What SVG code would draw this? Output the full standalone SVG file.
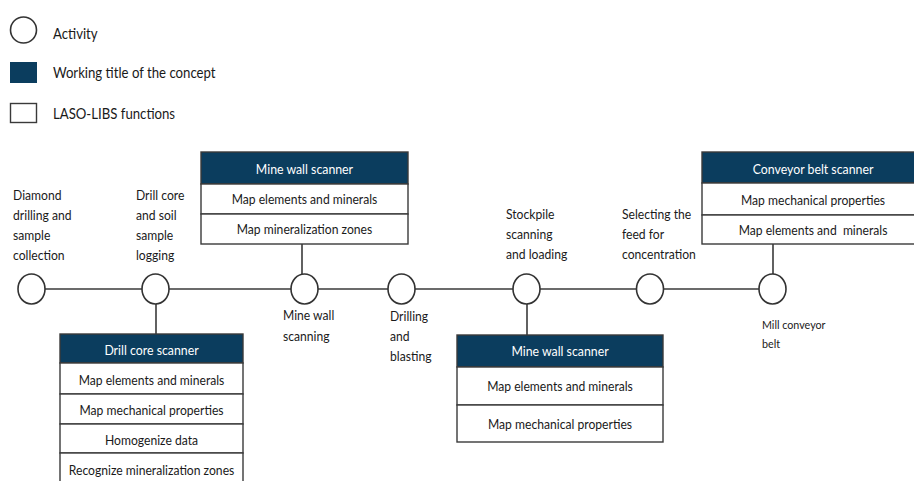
<svg xmlns="http://www.w3.org/2000/svg" width="914" height="481" viewBox="0 0 914 481">
  <style>
    text { font-family: Lato, "Open Sans", "Liberation Sans", sans-serif; fill: #1a1a1a; }
    .lbl { font-size: 13.8px; }
    .leg { font-size: 15px; }
    .small { font-size: 12.2px; }
    .box { font-size: 13.8px; text-anchor: middle; }
    .hd { font-size: 14px; text-anchor: middle; fill: #ffffff; }
    .pre { white-space: pre; }
    .act { fill: #ffffff; stroke: #333333; stroke-width: 1.6; }
    .cell { fill: #ffffff; stroke: #3a3a3a; stroke-width: 1.4; }
    .head { fill: #0b3d5e; stroke: #3a3a3a; stroke-width: 1.4; }
    .wire { stroke: #3a3a3a; stroke-width: 1.6; fill: none; }
  </style>

  <!-- all text is set slightly narrow: scale(0.88,1), so x values are divided by 0.88 -->

  <!-- legend -->
  <g id="legend">
    <ellipse class="act" cx="23.5" cy="30" rx="13" ry="13"/>
    <text class="leg" transform="scale(0.88,1)" x="60.2" y="39">Activity</text>
    <rect x="10" y="62" width="27" height="21" fill="#0b3d5e"/>
    <text class="leg" transform="scale(0.88,1)" x="60.2" y="78.5">Working title of the concept</text>
    <rect class="cell" x="10.5" y="103.5" width="26" height="19"/>
    <text class="leg" transform="scale(0.88,1)" x="60.2" y="119">LASO-LIBS functions</text>
  </g>

  <!-- connectors -->
  <g id="connectors">
    <line class="wire" x1="45" y1="289" x2="142" y2="289"/>
    <line class="wire" x1="169" y1="289" x2="291" y2="289"/>
    <line class="wire" x1="318" y1="289" x2="388" y2="289"/>
    <line class="wire" x1="415" y1="289" x2="513" y2="289"/>
    <line class="wire" x1="540" y1="289" x2="637" y2="289"/>
    <line class="wire" x1="663" y1="289" x2="760" y2="289"/>
    <line class="wire" x1="302" y1="244" x2="302" y2="274"/>
    <line class="wire" x1="773" y1="244" x2="773" y2="274"/>
    <line class="wire" x1="156" y1="304" x2="156" y2="334"/>
    <line class="wire" x1="527" y1="304" x2="527" y2="335"/>
  </g>

  <!-- activities -->
  <g id="act-diamond">
    <ellipse class="act" cx="31.5" cy="289" rx="13.5" ry="15"/>
    <text class="lbl" transform="scale(0.88,1)" x="14.8" y="200">Diamond</text>
    <text class="lbl" transform="scale(0.88,1)" x="14.8" y="220">drilling and</text>
    <text class="lbl" transform="scale(0.88,1)" x="14.8" y="240">sample</text>
    <text class="lbl" transform="scale(0.88,1)" x="14.8" y="260">collection</text>
  </g>
  <g id="act-drillcore">
    <ellipse class="act" cx="155.5" cy="289" rx="13.5" ry="15"/>
    <text class="lbl" transform="scale(0.88,1)" x="154.5" y="200">Drill core</text>
    <text class="lbl" transform="scale(0.88,1)" x="154.5" y="220">and soil</text>
    <text class="lbl" transform="scale(0.88,1)" x="154.5" y="240">sample</text>
    <text class="lbl" transform="scale(0.88,1)" x="154.5" y="260">logging</text>
  </g>
  <g id="act-minewall">
    <ellipse class="act" cx="304.5" cy="289" rx="13.5" ry="15"/>
    <text class="lbl" transform="scale(0.88,1)" x="321.6" y="320">Mine wall</text>
    <text class="lbl" transform="scale(0.88,1)" x="321.6" y="341">scanning</text>
  </g>
  <g id="act-drilling">
    <ellipse class="act" cx="401.5" cy="289" rx="13.5" ry="15"/>
    <text class="lbl" transform="scale(0.88,1)" x="443.2" y="321">Drilling</text>
    <text class="lbl" transform="scale(0.88,1)" x="443.2" y="341">and</text>
    <text class="lbl" transform="scale(0.88,1)" x="443.2" y="361">blasting</text>
  </g>
  <g id="act-stockpile">
    <ellipse class="act" cx="526.5" cy="289" rx="13.5" ry="15"/>
    <text class="lbl" transform="scale(0.88,1)" x="575" y="219">Stockpile</text>
    <text class="lbl" transform="scale(0.88,1)" x="575" y="239">scanning</text>
    <text class="lbl" transform="scale(0.88,1)" x="575" y="259">and loading</text>
  </g>
  <g id="act-feed">
    <ellipse class="act" cx="650" cy="289" rx="13.5" ry="15"/>
    <text class="lbl" transform="scale(0.88,1)" x="706.8" y="219">Selecting the</text>
    <text class="lbl" transform="scale(0.88,1)" x="706.8" y="239">feed for</text>
    <text class="lbl" transform="scale(0.88,1)" x="706.8" y="259">concentration</text>
  </g>
  <g id="act-mill">
    <ellipse class="act" cx="772.5" cy="289" rx="13.5" ry="15"/>
    <text class="small" transform="scale(0.88,1)" x="865.9" y="329">Mill conveyor</text>
    <text class="small" transform="scale(0.88,1)" x="865.9" y="348">belt</text>
  </g>

  <!-- concepts -->
  <g id="concept-minewall-top">
    <rect class="head" x="201" y="152" width="207" height="32"/>
    <rect class="cell" x="201" y="184" width="207" height="30"/>
    <rect class="cell" x="201" y="214" width="207" height="30"/>
    <text class="hd" transform="scale(0.88,1)" x="346" y="174">Mine wall scanner</text>
    <text class="box" transform="scale(0.88,1)" x="346" y="204.5">Map elements and minerals</text>
    <text class="box" transform="scale(0.88,1)" x="346" y="234.5">Map mineralization zones</text>
  </g>
  <g id="concept-conveyor">
    <rect class="head" x="702" y="152" width="220" height="31"/>
    <rect class="cell" x="702" y="183" width="220" height="32"/>
    <rect class="cell" x="702" y="215" width="220" height="29"/>
    <text class="hd" transform="scale(0.88,1)" x="923.9" y="174.5">Conveyor belt scanner</text>
    <text class="box" transform="scale(0.88,1)" x="923.9" y="205">Map mechanical properties</text>
    <text class="box pre" transform="scale(0.88,1)" x="923.9" y="235">Map elements and  minerals</text>
  </g>
  <g id="concept-drillcore">
    <rect class="head" x="60" y="334" width="183" height="29"/>
    <rect class="cell" x="60" y="363" width="183" height="31"/>
    <rect class="cell" x="60" y="394" width="183" height="30"/>
    <rect class="cell" x="60" y="424" width="183" height="29"/>
    <rect class="cell" x="60" y="453" width="183" height="32"/>
    <text class="hd" transform="scale(0.88,1)" x="172.2" y="355.5">Drill core scanner</text>
    <text class="box" transform="scale(0.88,1)" x="172.2" y="385">Map elements and minerals</text>
    <text class="box" transform="scale(0.88,1)" x="172.2" y="415">Map mechanical properties</text>
    <text class="box" transform="scale(0.88,1)" x="172.2" y="445">Homogenize data</text>
    <text class="box" transform="scale(0.88,1)" x="172.2" y="475">Recognize mineralization zones</text>
  </g>
  <g id="concept-minewall-bottom">
    <rect class="head" x="457" y="335" width="206" height="32"/>
    <rect class="cell" x="457" y="367" width="206" height="38"/>
    <rect class="cell" x="457" y="405" width="206" height="37"/>
    <text class="hd" transform="scale(0.88,1)" x="636.4" y="356">Mine wall scanner</text>
    <text class="box" transform="scale(0.88,1)" x="636.4" y="391">Map elements and minerals</text>
    <text class="box" transform="scale(0.88,1)" x="636.4" y="429">Map mechanical properties</text>
  </g>
</svg>
